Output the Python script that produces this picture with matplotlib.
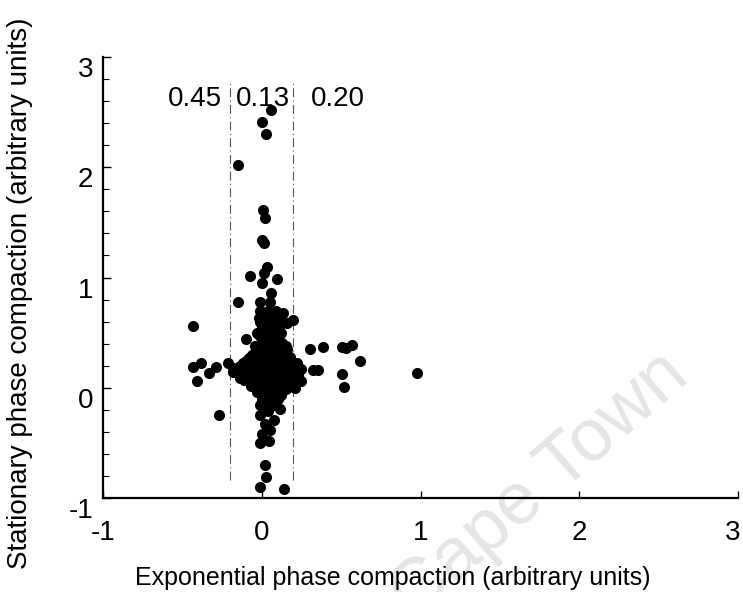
import matplotlib
matplotlib.use("Agg")
import matplotlib.pyplot as plt
import matplotlib.transforms as mtransforms
from matplotlib.ticker import MultipleLocator

plt.rcParams['font.family'] = ['Liberation Sans', 'DejaVu Sans']
plt.rcParams['axes.unicode_minus'] = False

# outliers
x_out = [0.058, 0.002, 0.027, -0.15, 0.008, 0.02, 0.0, 0.015, 0.035, 0.016, -0.074, 0.097,
         0.002, 0.058, -0.15, -0.011, 0.052, 0.134, 0.197, 0.16, -0.43, -0.10,
         0.304, 0.386, 0.506, 0.531, 0.569, 0.619, 0.323, 0.355, 0.506, 0.518, 0.978,
         -0.433, -0.383, -0.332, -0.288, -0.408, -0.213, -0.181, -0.137, -0.269,
         -0.011, 0.046, 0.02, 0.027, -0.011, 0.14,
         0.0, 0.05, 0.02, 0.08, -0.01, 0.04, 0.115,
         0.178, 0.222, 0.228, 0.21, 0.25, 0.245]
y_out = [2.52, 2.41, 2.30, 2.02, 1.61, 1.54, 1.34, 1.31, 1.095, 1.04, 1.01, 0.99,
         0.95, 0.86, 0.78, 0.78, 0.78, 0.68, 0.61, 0.59, 0.56, 0.44,
         0.35, 0.37, 0.37, 0.36, 0.39, 0.24, 0.16, 0.16, 0.125, 0.007, 0.134,
         0.19, 0.225, 0.134, 0.19, 0.061, 0.225, 0.18, 0.09, -0.247,
         -0.50, -0.48, -0.70, -0.81, -0.90, -0.92,
         -0.42, -0.38, -0.33, -0.29, -0.25, -0.21, -0.19,
         0.28, 0.225, 0.10, 0.0, 0.17, 0.06]

# dense cluster around the origin
x_core = [-0.01, 0.04, 0.09,
          -0.02, 0.03, 0.08, 0.11,
          0.0, 0.05, 0.10,
          -0.03, 0.02, 0.07, 0.12,
          0.0, 0.05, 0.09,
          -0.04, 0.01, 0.06, 0.11, 0.15,
          -0.02, 0.03, 0.08, 0.13,
          -0.08, -0.03, 0.02, 0.07, 0.12, 0.17,
          -0.12, -0.06, 0.0, 0.05, 0.10, 0.15, 0.19,
          -0.16, -0.10, -0.04, 0.01, 0.06, 0.11, 0.16, 0.21,
          -0.14, -0.08, -0.02, 0.03, 0.08, 0.13, 0.18, 0.23,
          -0.11, -0.05, 0.0, 0.05, 0.10, 0.15, 0.20,
          -0.07, -0.02, 0.03, 0.08, 0.13, 0.17,
          -0.03, 0.02, 0.07, 0.12,
          0.0, 0.05, 0.10,
          -0.01, 0.04, 0.08]
y_core = [0.70, 0.70, 0.70,
          0.63, 0.63, 0.63, 0.63,
          0.56, 0.56, 0.56,
          0.50, 0.50, 0.50, 0.50,
          0.44, 0.44, 0.44,
          0.38, 0.38, 0.38, 0.38, 0.38,
          0.32, 0.32, 0.32, 0.32,
          0.27, 0.27, 0.27, 0.27, 0.27, 0.27,
          0.22, 0.22, 0.22, 0.22, 0.22, 0.22, 0.22,
          0.17, 0.17, 0.17, 0.17, 0.17, 0.17, 0.17, 0.17,
          0.12, 0.12, 0.12, 0.12, 0.12, 0.12, 0.12, 0.12,
          0.07, 0.07, 0.07, 0.07, 0.07, 0.07, 0.07,
          0.02, 0.02, 0.02, 0.02, 0.02, 0.02,
          -0.04, -0.04, -0.04, -0.04,
          -0.10, -0.10, -0.10,
          -0.16, -0.16, -0.16]

# second, staggered layer of the cluster
x_core2 = [0.01, 0.06, 0.10,
           -0.01, 0.04, 0.09,
           0.02, 0.07, 0.11,
           -0.01, 0.04, 0.10,
           0.02, 0.07, 0.13,
           0.0, 0.05, 0.10, 0.16,
           -0.06, 0.0, 0.05, 0.10, 0.15,
           -0.10, -0.04, 0.03, 0.08, 0.13, 0.18,
           -0.14, -0.07, -0.01, 0.04, 0.09, 0.14, 0.19,
           -0.18, -0.12, -0.05, 0.0, 0.06, 0.11, 0.16, 0.21,
           -0.09, -0.03, 0.02, 0.07, 0.12, 0.17, 0.22,
           -0.04, 0.02, 0.07, 0.12, 0.16,
           0.0, 0.05, 0.10, 0.15,
           0.02, 0.08, 0.12,
           0.03, 0.07]
y_core2 = [0.66, 0.66, 0.66,
           0.60, 0.60, 0.60,
           0.53, 0.53, 0.53,
           0.47, 0.47, 0.47,
           0.41, 0.41, 0.41,
           0.35, 0.35, 0.35, 0.35,
           0.30, 0.30, 0.30, 0.30, 0.30,
           0.245, 0.245, 0.245, 0.245, 0.245, 0.245,
           0.195, 0.195, 0.195, 0.195, 0.195, 0.195, 0.195,
           0.145, 0.145, 0.145, 0.145, 0.145, 0.145, 0.145, 0.145,
           0.095, 0.095, 0.095, 0.095, 0.095, 0.095, 0.095,
           0.045, 0.045, 0.045, 0.045, 0.045,
           -0.01, -0.01, -0.01, -0.01,
           -0.07, -0.07, -0.07,
           -0.13, -0.13]

bounds = [-0.2, 0.2]
fractions = ['0.45', '0.13', '0.20']
frac_x = [-0.42, 0.01, 0.48]

fig = plt.figure(figsize=(7.43, 5.92), dpi=100)
ax = fig.add_axes([0.1386, 0.1588, 0.8547, 0.7449])

fig.text(0.93, 0.358, 'Cape Town', fontsize=53, color='#e5e5e5', rotation=41,
         ha='right', va='baseline', rotation_mode='anchor', zorder=-1)
ax.patch.set_alpha(0)

ax.scatter(x_out + x_core + x_core2, y_out + y_core + y_core2, s=64, color='black',
           linewidths=0, zorder=3)

for b in bounds:
    ax.plot([b, b], [-0.84, 2.76], color='#555555', lw=0.8, ls=(0, (8, 3, 1, 3)), zorder=2)
for t, xx in zip(fractions, frac_x):
    ax.text(xx, 2.62, t, fontsize=20, ha='center', va='center')

ax.set_xlim(-1, 3)
ax.set_ylim(-1, 3)
ax.set_xticks([-1, 0, 1, 2, 3])
ax.set_yticks([-1, 0, 1, 2, 3])
ax.yaxis.set_minor_locator(MultipleLocator(0.2))
for s in ['top', 'right']:
    ax.spines[s].set_visible(False)
for s in ['left', 'bottom']:
    ax.spines[s].set_linewidth(1.6)
ax.tick_params(axis='both', direction='in', labelsize=20, width=1.0)
ax.tick_params(axis='y', length=6, pad=7)
ax.tick_params(axis='x', length=5, pad=16)
ax.tick_params(axis='y', which='minor', direction='in', length=4, width=0.8)

off = mtransforms.ScaledTranslation(0, -10 / 100, fig.dpi_scale_trans)
for lab in ax.get_yticklabels():
    lab.set_transform(lab.get_transform() + off)
xlabs = ax.get_xticklabels()
xlabs[-1].set_transform(xlabs[-1].get_transform()
                        + mtransforms.ScaledTranslation(-5 / 100, 0, fig.dpi_scale_trans))

ax.set_xlabel('Exponential phase compaction (arbitrary units)', fontsize=18)
ax.set_ylabel('Stationary phase compaction (arbitrary units)', fontsize=20)
ax.xaxis.set_label_coords(0.456, -0.155)
ax.yaxis.set_label_coords(-0.11, 0.465)

fig.savefig('out.png', dpi=100)
